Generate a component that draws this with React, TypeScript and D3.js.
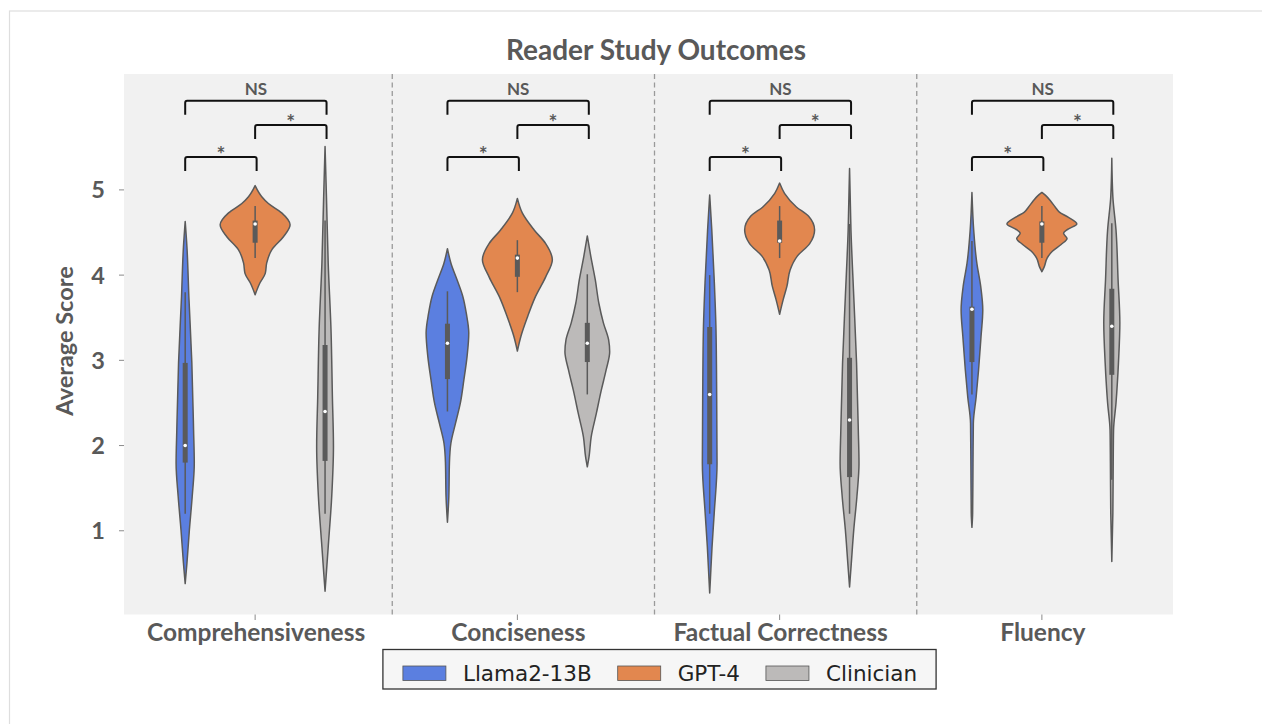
import React, { useEffect, useRef } from "react";
import * as d3 from "d3";

// ---------- data ----------
const categories = ["Comprehensiveness", "Conciseness", "Factual Correctness", "Fluency"];
const models = ["Llama2-13B", "GPT-4", "Clinician"];
const modelColors = ["#5b7fe0", "#e2874f", "#bcbab9"];
const yTicks = [1, 2, 3, 4, 5];

// violin outlines: [score, relative half-width]
const llamaProfiles: [number, number][][] = [
  [[4.63, 0], [4.33, 0.05], [3.75, 0.105], [2.97, 0.19], [2.18, 0.24], [1.79, 0.26], [1.4, 0.2], [1.01, 0.12], [0.62, 0.05], [0.38, 0]],
  [[4.31, 0], [4.14, 0.1], [3.94, 0.28], [3.75, 0.44], [3.55, 0.54], [3.32, 0.61], [3.04, 0.56], [2.77, 0.47], [2.5, 0.37], [2.26, 0.23], [2.03, 0.1], [1.8, 0.057], [1.4, 0.04], [1.1, 0]],
  [[4.94, 0], [4.53, 0.06], [3.94, 0.13], [3.36, 0.18], [2.57, 0.2], [1.79, 0.21], [1.21, 0.13], [0.81, 0.067], [0.43, 0.02], [0.27, 0]],
  [[4.97, 0], [4.53, 0.05], [4.14, 0.14], [3.87, 0.25], [3.59, 0.31], [3.28, 0.26], [2.89, 0.19], [2.57, 0.12], [2.26, 0.04], [1.79, 0.03], [1.21, 0.02], [1.04, 0]],
];
const gptProfiles: [number, number][][] = [
  [[5.05, 0], [4.92, 0.19], [4.84, 0.38], [4.73, 0.76], [4.59, 1.0], [4.45, 0.81], [4.3, 0.48], [4.14, 0.33], [4.02, 0.29], [3.91, 0.14], [3.77, 0]],
  [[4.9, 0], [4.73, 0.14], [4.53, 0.48], [4.37, 0.81], [4.18, 1.0], [3.98, 0.81], [3.75, 0.52], [3.51, 0.29], [3.28, 0.1], [3.11, 0]],
  [[5.08, 0], [4.96, 0.14], [4.8, 0.48], [4.69, 0.83], [4.53, 1.0], [4.37, 0.86], [4.22, 0.5], [4.06, 0.3], [3.87, 0.21], [3.71, 0.1], [3.54, 0]],
  [[4.97, 0], [4.93, 0.12], [4.87, 0.25], [4.8, 0.38], [4.74, 0.5], [4.68, 0.75], [4.6, 1.0], [4.54, 0.75], [4.49, 0.62], [4.43, 0.72], [4.36, 0.55], [4.28, 0.3], [4.2, 0.15], [4.1, 0.07], [4.04, 0]],
];
const clinicianProfiles: [number, number][][] = [
  [[5.51, 0], [4.92, 0.04], [4.14, 0.09], [3.36, 0.17], [2.57, 0.21], [1.99, 0.24], [1.4, 0.19], [0.81, 0.09], [0.29, 0]],
  [[4.46, 0], [4.22, 0.1], [3.94, 0.23], [3.67, 0.33], [3.44, 0.46], [3.24, 0.61], [3.1, 0.64], [2.89, 0.54], [2.65, 0.4], [2.38, 0.26], [2.1, 0.11], [1.87, 0.05], [1.75, 0]],
  [[5.25, 0], [4.53, 0.04], [3.75, 0.12], [2.97, 0.2], [2.18, 0.25], [1.79, 0.27], [1.4, 0.21], [1.01, 0.12], [0.62, 0.05], [0.34, 0]],
  [[5.37, 0], [4.92, 0.03], [4.53, 0.12], [3.94, 0.18], [3.44, 0.23], [2.97, 0.19], [2.5, 0.12], [2.18, 0.05], [1.79, 0.04], [1.21, 0.03], [0.64, 0]],
];

// inner box stats: [whisker low, q1, median, q3, whisker high]
const llamaBoxes = [
  [1.2, 1.8, 2.0, 2.97, 3.8],
  [2.4, 2.78, 3.2, 3.43, 3.81],
  [1.2, 1.78, 2.6, 3.39, 4.0],
  [2.6, 2.98, 3.6, 3.63, 4.4],
];
const gptBoxes = [
  [4.2, 4.38, 4.6, 4.64, 4.81],
  [3.8, 3.98, 4.2, 4.24, 4.41],
  [4.2, 4.38, 4.4, 4.64, 4.81],
  [4.2, 4.38, 4.6, 4.63, 4.81],
];
const clinicianBoxes = [
  [1.2, 1.82, 2.4, 3.18, 4.64],
  [2.6, 2.98, 3.2, 3.44, 4.01],
  [1.2, 1.63, 2.3, 3.03, 4.6],
  [1.6, 2.83, 3.4, 3.84, 4.61],
];

// significance brackets (same in every panel)
const bracketFrom = [0, 1, 0];
const bracketTo = [1, 2, 2];
const bracketLevel = [5.387, 5.763, 6.045];
const bracketLabel = ["*", "*", "NS"];

const W = 1262;
const H = 724;

export default function App() {
  const ref = useRef<SVGSVGElement>(null);

  useEffect(() => {
    const svg = d3.select(ref.current);
    svg.selectAll("*").remove();

    const plot = { left: 124, right: 1173, top: 74, bottom: 614.5 };
    const labelColor = "#595959";
    const edge = "#5a5a5a";
    const axisFont = "Lato, 'Open Sans', sans-serif";

    // outer frame
    svg.append("rect").attr("x", 0).attr("y", 0).attr("width", W).attr("height", H).attr("fill", "#fff");
    svg.append("rect").attr("x", 9.5).attr("y", 11).attr("width", 1400).attr("height", 900)
      .attr("fill", "#fff").attr("stroke", "#dedede").attr("stroke-width", 1.2);

    const x = d3.scaleBand<string>().domain(categories).range([plot.left, plot.right]).padding(0);
    const inner = d3.scaleBand<string>().domain(models).range([-0.4 * x.bandwidth(), 0.4 * x.bandwidth()]);
    const y = d3.scaleLinear().domain([0, 6.36]).range([616, 74]);
    const hw = inner.bandwidth() / 2;

    // plot background
    svg.append("rect").attr("x", plot.left).attr("y", plot.top)
      .attr("width", plot.right - plot.left).attr("height", plot.bottom - plot.top).attr("fill", "#f1f1f1");

    // separators
    categories.slice(0, -1).forEach((c) => {
      const sx = (x(c) as number) + x.bandwidth() + 6;
      svg.append("line").attr("x1", sx).attr("x2", sx).attr("y1", plot.top).attr("y2", plot.bottom)
        .attr("stroke", "#9a9a9a").attr("stroke-width", 1.3).attr("stroke-dasharray", "5,3.5");
    });

    // y ticks
    yTicks.forEach((t) => {
      svg.append("line").attr("x1", 119).attr("x2", plot.left).attr("y1", y(t)).attr("y2", y(t))
        .attr("stroke", "#8a8a8a").attr("stroke-width", 1);
      svg.append("text").attr("x", 105).attr("y", y(t) + 8.5).attr("text-anchor", "end")
        .attr("font-family", axisFont).attr("font-weight", 700).attr("font-size", 23.5)
        .attr("fill", labelColor).text(String(t));
    });

    // x ticks + labels
    categories.forEach((c) => {
      const cx = (x(c) as number) + x.bandwidth() / 2;
      svg.append("line").attr("x1", cx).attr("x2", cx).attr("y1", plot.bottom).attr("y2", 620)
        .attr("stroke", "#8a8a8a").attr("stroke-width", 1);
      svg.append("text").attr("x", cx + 1).attr("y", 641).attr("text-anchor", "middle")
        .attr("font-family", axisFont).attr("font-weight", 700).attr("font-size", 24.5)
        .attr("fill", labelColor).text(c);
    });

    // y label
    svg.append("text").attr("transform", "translate(73,341) rotate(-90)").attr("text-anchor", "middle")
      .attr("font-family", axisFont).attr("font-weight", 700).attr("font-size", 23.5)
      .attr("fill", labelColor).text("Average Score");

    // title
    svg.append("text").attr("x", 656).attr("y", 60).attr("text-anchor", "middle")
      .attr("font-family", axisFont).attr("font-weight", 700).attr("font-size", 28)
      .attr("fill", labelColor).text("Reader Study Outcomes");

    const profiles = [llamaProfiles, gptProfiles, clinicianProfiles];
    const boxes = [llamaBoxes, gptBoxes, clinicianBoxes];

    categories.forEach((c, ci) => {
      const center = (x(c) as number) + x.bandwidth() / 2;
      models.forEach((m, mi) => {
        const cx = center + (inner(m) as number) + inner.bandwidth() / 2;
        const area = d3.area<[number, number]>()
          .y((d) => y(d[0]))
          .x0((d) => cx - d[1] * hw)
          .x1((d) => cx + d[1] * hw)
          .curve(d3.curveMonotoneY);
        svg.append("path").attr("d", area(profiles[mi][ci]) as string)
          .attr("fill", modelColors[mi]).attr("stroke", edge).attr("stroke-width", 1.5)
          .attr("stroke-linejoin", "round");
        const [wl, q1, med, q3, wh] = boxes[mi][ci];
        svg.append("line").attr("x1", cx).attr("x2", cx).attr("y1", y(wl)).attr("y2", y(wh))
          .attr("stroke", edge).attr("stroke-width", 1.5);
        svg.append("line").attr("x1", cx).attr("x2", cx).attr("y1", y(q1)).attr("y2", y(q3))
          .attr("stroke", edge).attr("stroke-width", 5);
        svg.append("circle").attr("cx", cx).attr("cy", y(med)).attr("r", 1.8).attr("fill", "#fff");
      });

      // brackets
      bracketLevel.forEach((lv, bi) => {
        const m1 = models[bracketFrom[bi]];
        const m2 = models[bracketTo[bi]];
        const x1 = center + (inner(m1) as number) + inner.bandwidth() / 2;
        const x2 = center + (inner(m2) as number) + inner.bandwidth() / 2 + 1.5;
        const yy = y(lv);
        const leg = 14;
        svg.append("path")
          .attr("d", `M${x1},${yy + leg} L${x1},${yy + 2} Q${x1},${yy} ${x1 + 2},${yy} L${x2 - 2},${yy} Q${x2},${yy} ${x2},${yy + 2} L${x2},${yy + leg}`)
          .attr("fill", "none").attr("stroke", "#111").attr("stroke-width", 2);
        const isNS = bracketLabel[bi] === "NS";
        svg.append("text").attr("x", (x1 + x2) / 2).attr("y", isNS ? yy - 5.5 : yy + 5)
          .attr("text-anchor", "middle").attr("font-family", axisFont).attr("font-weight", 700)
          .attr("font-size", isNS ? 17 : 21).attr("fill", labelColor).text(bracketLabel[bi]);
      });
    });

    // legend
    const lg = svg.append("g");
    const frame = lg.append("rect").attr("y", 649.5).attr("height", 39.5)
      .attr("fill", "#f6f6f6").attr("stroke", "#333").attr("stroke-width", 1.3);
    let cursor = 0;
    const padL = 20, patchW = 43, gap1 = 17, gap2 = 26, padR = 19;
    cursor = padL;
    models.forEach((m, mi) => {
      lg.append("rect").attr("x", cursor).attr("y", 666).attr("width", patchW).attr("height", 14.5)
        .attr("fill", modelColors[mi]).attr("stroke", "#555").attr("stroke-width", 0.8);
      cursor += patchW + gap1;
      const t = lg.append("text").attr("x", cursor).attr("y", 680.5)
        .attr("font-family", "'DejaVu Sans', sans-serif").attr("font-size", 21.5).attr("fill", "#222").text(m);
      const tw = (t.node() as SVGTextElement).getComputedTextLength();
      cursor += tw + (mi < models.length - 1 ? gap2 : padR);
    });
    frame.attr("x", 0).attr("width", cursor);
    const legendCenter = 659.5;
    lg.attr("transform", `translate(${legendCenter - cursor / 2},0)`);
  }, []);

  return (
    <svg
      ref={ref}
      width={W}
      height={H}
      style={{ position: "absolute", left: 0, top: 0, display: "block" }}
    />
  );
}
